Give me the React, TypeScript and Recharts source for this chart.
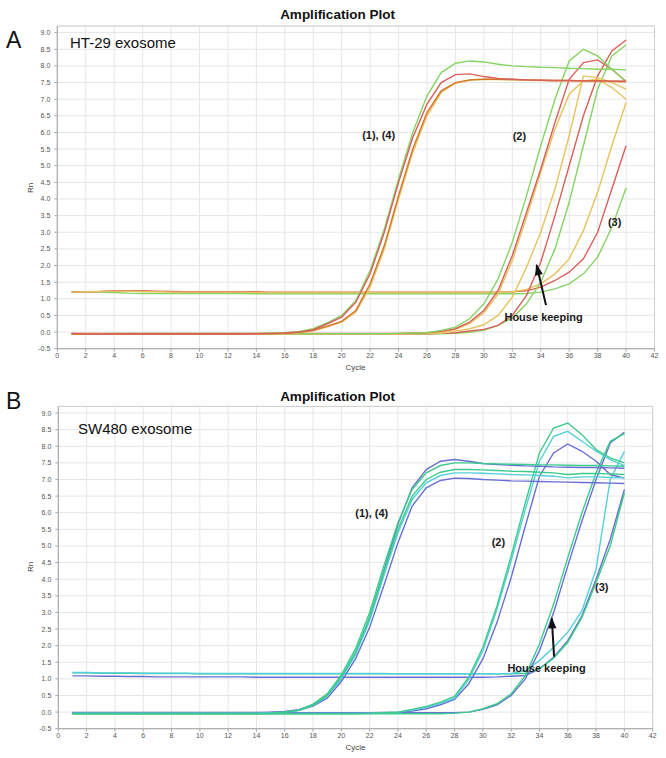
import React from "react";
import {
  LineChart,
  Line,
  XAxis,
  YAxis,
  CartesianGrid,
  ReferenceArea,
  ReferenceDot,
  ReferenceLine,
} from "recharts";

// ---------- categories & ticks ----------
const cycles = [
  1, 2, 3, 4, 5, 6, 7, 8, 9, 10, 11, 12, 13, 14, 15, 16, 17, 18, 19, 20,
  21, 22, 23, 24, 25, 26, 27, 28, 29, 30, 31, 32, 33, 34, 35, 36, 37, 38, 39, 40,
];
const xTicks = [0, 2, 4, 6, 8, 10, 12, 14, 16, 18, 20, 22, 24, 26, 28, 30, 32, 34, 36, 38, 40, 42];
const yTicks = [-0.5, 0, 0.5, 1, 1.5, 2, 2.5, 3, 3.5, 4, 4.5, 5, 5.5, 6, 6.5, 7, 7.5, 8, 8.5, 9];

// ---------- Panel A (HT-29 exosome) ----------
const aGreen14 = [
  -0.05, -0.05, -0.05, -0.04, -0.04, -0.04, -0.04, -0.04, -0.04, -0.04,
  -0.04, -0.04, -0.04, -0.04, -0.03, -0.02, 0.02, 0.1, 0.28, 0.5,
  0.95, 1.85, 3.1, 4.6, 6.0, 7.1, 7.8, 8.08, 8.15, 8.12,
  8.05, 8.0, 7.98, 7.96, 7.95, 7.93, 7.92, 7.9, 7.9, 7.88,
];
const aRed14 = [
  -0.04, -0.06, -0.07, -0.06, -0.05, -0.05, -0.05, -0.05, -0.05, -0.05,
  -0.05, -0.05, -0.05, -0.05, -0.04, -0.03, 0.0, 0.07, 0.25, 0.45,
  0.9, 1.75, 3.0, 4.5, 5.85, 6.85, 7.5, 7.74, 7.76, 7.68,
  7.62, 7.6, 7.58, 7.57, 7.56, 7.56, 7.55, 7.55, 7.54, 7.53,
];
const aOrange14 = [
  -0.06, -0.06, -0.06, -0.06, -0.06, -0.06, -0.06, -0.06, -0.06, -0.06,
  -0.06, -0.06, -0.06, -0.05, -0.05, -0.04, -0.01, 0.05, 0.18, 0.32,
  0.65, 1.45, 2.6, 4.1, 5.5, 6.6, 7.25, 7.5, 7.58, 7.6,
  7.6, 7.59, 7.58, 7.57, 7.56, 7.56, 7.55, 7.55, 7.54, 7.54,
];
const aYellow14 = [
  -0.06, -0.06, -0.06, -0.06, -0.06, -0.06, -0.06, -0.06, -0.06, -0.06,
  -0.06, -0.06, -0.06, -0.06, -0.05, -0.05, -0.02, 0.04, 0.16, 0.3,
  0.6, 1.35, 2.5, 4.0, 5.4, 6.5, 7.2, 7.48, 7.57, 7.6,
  7.59, 7.58, 7.57, 7.56, 7.55, 7.55, 7.54, 7.53, 7.52, 7.52,
];
const aGreen2a = [
  -0.05, -0.05, -0.05, -0.05, -0.05, -0.05, -0.05, -0.05, -0.05, -0.05,
  -0.05, -0.05, -0.05, -0.05, -0.05, -0.05, -0.05, -0.05, -0.05, -0.05,
  -0.05, -0.05, -0.05, -0.04, -0.03, -0.02, 0.05, 0.15, 0.4, 0.85,
  1.6, 2.7, 4.1, 5.6, 7.0, 8.15, 8.5, 8.3, 7.9, 7.53,
];
const aRed2a = [
  -0.04, -0.04, -0.04, -0.04, -0.04, -0.04, -0.04, -0.04, -0.04, -0.04,
  -0.04, -0.04, -0.04, -0.04, -0.04, -0.04, -0.04, -0.04, -0.04, -0.04,
  -0.04, -0.04, -0.04, -0.04, -0.03, -0.02, 0.02, 0.1, 0.3, 0.65,
  1.25, 2.3, 3.6, 4.9, 6.3, 7.6, 8.1, 8.18, 7.9, 7.53,
];
const aYellow2b = [
  -0.05, -0.05, -0.05, -0.05, -0.05, -0.05, -0.05, -0.05, -0.05, -0.05,
  -0.05, -0.05, -0.05, -0.05, -0.05, -0.05, -0.05, -0.05, -0.05, -0.05,
  -0.05, -0.05, -0.05, -0.05, -0.04, -0.03, 0.0, 0.08, 0.25, 0.58,
  1.15, 2.15, 3.45, 4.8, 6.1, 7.15, 7.55, 7.6, 7.35, 7.0,
];
const aYellow2a = [
  -0.05, -0.05, -0.05, -0.05, -0.05, -0.05, -0.05, -0.05, -0.05, -0.05,
  -0.05, -0.05, -0.05, -0.05, -0.05, -0.05, -0.05, -0.05, -0.05, -0.05,
  -0.05, -0.05, -0.05, -0.05, -0.05, -0.05, -0.04, 0.03, 0.1, 0.22,
  0.5, 1.05, 1.95, 3.0, 4.3, 5.9, 7.7, 7.65, 7.5, 7.3,
];
const aRed2b = [
  -0.06, -0.06, -0.06, -0.06, -0.06, -0.06, -0.06, -0.06, -0.06, -0.06,
  -0.06, -0.06, -0.06, -0.06, -0.06, -0.06, -0.06, -0.06, -0.06, -0.06,
  -0.06, -0.06, -0.06, -0.06, -0.05, -0.05, -0.04, -0.02, 0.03, 0.08,
  0.2, 0.5, 1.1, 2.1, 3.5, 5.0, 6.5, 7.7, 8.45, 8.78,
];
const aGreen2b = [
  -0.06, -0.06, -0.06, -0.06, -0.06, -0.06, -0.06, -0.06, -0.06, -0.06,
  -0.06, -0.06, -0.06, -0.06, -0.06, -0.06, -0.06, -0.06, -0.06, -0.06,
  -0.06, -0.06, -0.06, -0.06, -0.06, -0.06, -0.05, -0.04, -0.01, 0.05,
  0.2, 0.42, 0.85, 1.5, 2.5, 3.9, 5.6, 7.3, 8.3, 8.63,
];
const aYellow3 = [
  1.2, 1.21, 1.22, 1.23, 1.23, 1.22, 1.21, 1.2, 1.2, 1.2,
  1.2, 1.2, 1.2, 1.19, 1.19, 1.19, 1.19, 1.19, 1.19, 1.19,
  1.19, 1.19, 1.19, 1.19, 1.19, 1.19, 1.19, 1.19, 1.19, 1.19,
  1.19, 1.21, 1.28, 1.45, 1.75, 2.2, 3.05, 4.2, 5.6, 6.9,
];
const aRed3 = [
  1.21, 1.21, 1.22, 1.24, 1.24, 1.24, 1.23, 1.22, 1.21, 1.21,
  1.21, 1.21, 1.21, 1.21, 1.2, 1.2, 1.2, 1.2, 1.2, 1.2,
  1.2, 1.2, 1.2, 1.2, 1.2, 1.2, 1.2, 1.2, 1.2, 1.2,
  1.2, 1.21, 1.24, 1.35, 1.55, 1.8, 2.2, 3.0, 4.3, 5.6,
];
const aGreen3 = [
  1.2, 1.2, 1.2, 1.19, 1.17, 1.16, 1.16, 1.16, 1.16, 1.16,
  1.16, 1.16, 1.16, 1.15, 1.15, 1.15, 1.15, 1.15, 1.15, 1.15,
  1.15, 1.15, 1.15, 1.15, 1.15, 1.15, 1.15, 1.15, 1.15, 1.15,
  1.15, 1.15, 1.16, 1.2, 1.3, 1.45, 1.75, 2.25, 3.15, 4.33,
];

// ---------- Panel B (SW480 exosome) ----------
const bGreen14a = [
  -0.05, -0.05, -0.05, -0.05, -0.05, -0.05, -0.05, -0.05, -0.05, -0.05,
  -0.05, -0.05, -0.05, -0.05, -0.04, 0.0, 0.06, 0.24, 0.55, 1.12,
  1.9, 3.0, 4.4, 5.7, 6.7, 7.2, 7.42, 7.5, 7.5, 7.48,
  7.47, 7.46, 7.45, 7.44, 7.44, 7.43, 7.42, 7.42, 7.41, 7.4,
];
const bBlue14a = [
  -0.02, -0.02, -0.02, -0.02, -0.02, -0.02, -0.02, -0.02, -0.02, -0.02,
  -0.02, -0.02, -0.02, -0.02, -0.01, 0.02, 0.07, 0.22, 0.5, 1.02,
  1.75, 2.85, 4.25, 5.65, 6.75, 7.3, 7.55, 7.6, 7.55, 7.48,
  7.45, 7.43, 7.41, 7.4, 7.38, 7.37, 7.36, 7.36, 7.35, 7.34,
];
const bGreen14b = [
  -0.04, -0.04, -0.04, -0.04, -0.04, -0.04, -0.04, -0.04, -0.04, -0.04,
  -0.04, -0.04, -0.04, -0.04, -0.03, 0.0, 0.05, 0.21, 0.5, 1.05,
  1.8, 2.85, 4.2, 5.5, 6.5, 7.0, 7.22, 7.3, 7.3, 7.29,
  7.27, 7.25, 7.24, 7.22, 7.2, 7.15, 7.18, 7.18, 7.17, 7.15,
];
const bCyan14 = [
  -0.03, -0.03, -0.03, -0.03, -0.03, -0.03, -0.03, -0.03, -0.03, -0.03,
  -0.03, -0.03, -0.03, -0.03, -0.02, 0.0, 0.05, 0.2, 0.48, 1.0,
  1.72, 2.75, 4.1, 5.4, 6.4, 6.9, 7.12, 7.2, 7.2, 7.19,
  7.17, 7.15, 7.14, 7.12, 7.1, 7.05, 7.08, 7.08, 7.06, 7.05,
];
const bBlue14b = [
  -0.01, -0.01, -0.01, -0.01, -0.01, -0.01, -0.01, -0.01, -0.01, -0.01,
  -0.01, -0.01, -0.01, -0.01, 0.0, 0.01, 0.05, 0.18, 0.42, 0.92,
  1.6, 2.55, 3.8, 5.1, 6.2, 6.75, 6.97, 7.04, 7.03, 7.0,
  6.98, 6.96, 6.95, 6.94, 6.93, 6.92, 6.91, 6.9, 6.89, 6.88,
];
const bGreen2 = [
  -0.05, -0.05, -0.05, -0.05, -0.05, -0.05, -0.05, -0.05, -0.05, -0.05,
  -0.05, -0.05, -0.05, -0.05, -0.05, -0.05, -0.05, -0.05, -0.05, -0.05,
  -0.05, -0.04, -0.02, 0.0, 0.08, 0.17, 0.3, 0.47, 1.05, 1.95,
  3.2, 4.7, 6.3, 7.8, 8.55, 8.7, 8.35, 7.9, 7.65, 7.5,
];
const bCyan2 = [
  -0.04, -0.04, -0.04, -0.04, -0.04, -0.04, -0.04, -0.04, -0.04, -0.04,
  -0.04, -0.04, -0.04, -0.04, -0.04, -0.04, -0.04, -0.04, -0.04, -0.04,
  -0.04, -0.03, -0.02, 0.0, 0.06, 0.14, 0.26, 0.42, 0.98, 1.85,
  3.1, 4.55, 6.1, 7.55, 8.3, 8.45, 8.15, 7.85, 7.6, 7.42,
];
const bBlue2 = [
  -0.02, -0.02, -0.02, -0.02, -0.02, -0.02, -0.02, -0.02, -0.02, -0.02,
  -0.02, -0.02, -0.02, -0.02, -0.02, -0.02, -0.02, -0.02, -0.02, -0.02,
  -0.02, -0.02, -0.01, 0.0, 0.03, 0.1, 0.22, 0.38, 0.85, 1.6,
  2.7, 4.05, 5.6, 7.1, 7.8, 8.07, 7.85, 7.55, 7.15, 7.04,
];
const bGreenHk = [
  -0.05, -0.05, -0.05, -0.05, -0.05, -0.05, -0.05, -0.05, -0.05, -0.05,
  -0.05, -0.05, -0.05, -0.05, -0.05, -0.05, -0.05, -0.05, -0.05, -0.05,
  -0.05, -0.05, -0.05, -0.05, -0.05, -0.05, -0.05, -0.03, 0.0, 0.1,
  0.25, 0.55, 1.1, 2.05, 3.25, 4.65, 6.0, 7.2, 8.15, 8.38,
];
const bBlueHk = [
  -0.02, -0.02, -0.02, -0.02, -0.02, -0.02, -0.02, -0.02, -0.02, -0.02,
  -0.02, -0.02, -0.02, -0.02, -0.02, -0.02, -0.02, -0.02, -0.02, -0.02,
  -0.02, -0.02, -0.02, -0.02, -0.02, -0.02, -0.02, -0.02, 0.0, 0.08,
  0.22, 0.5, 1.0, 1.85, 3.0, 4.4, 5.75, 7.0, 8.1, 8.42,
];
const bCyan3 = [
  1.19, 1.19, 1.18, 1.18, 1.18, 1.17, 1.17, 1.17, 1.17, 1.16,
  1.16, 1.16, 1.16, 1.16, 1.16, 1.16, 1.16, 1.16, 1.16, 1.16,
  1.16, 1.16, 1.16, 1.15, 1.15, 1.15, 1.15, 1.15, 1.15, 1.15,
  1.15, 1.16, 1.25, 1.55, 1.95, 2.4, 3.05, 4.3, 7.0, 7.84,
];
const bGreen3 = [
  1.18, 1.18, 1.17, 1.17, 1.17, 1.16, 1.16, 1.16, 1.16, 1.15,
  1.15, 1.15, 1.15, 1.15, 1.15, 1.15, 1.15, 1.15, 1.15, 1.15,
  1.15, 1.15, 1.15, 1.15, 1.15, 1.15, 1.15, 1.15, 1.15, 1.15,
  1.15, 1.15, 1.17, 1.3, 1.62, 2.1, 2.85, 3.9, 5.0, 6.6,
];
const bBlue3 = [
  1.09, 1.09, 1.08, 1.08, 1.07, 1.07, 1.06, 1.06, 1.06, 1.06,
  1.06, 1.06, 1.06, 1.05, 1.05, 1.05, 1.05, 1.05, 1.05, 1.05,
  1.05, 1.05, 1.05, 1.05, 1.05, 1.05, 1.05, 1.05, 1.05, 1.05,
  1.06, 1.08, 1.1, 1.3, 1.65, 2.15, 2.9, 4.0, 5.2, 6.7,
];

// ---------- annotation text & anchors (data coordinates) ----------
const annotationsA = [
  { text: "(1), (4)", x: 22.6, y: 5.92 },
  { text: "(2)", x: 32.5, y: 5.89 },
  { text: "(3)", x: 39.2, y: 3.32 },
  { text: "House keeping", x: 34.2, y: 0.46 },
];
const annotationsB = [
  { text: "(1), (4)", x: 22.15, y: 5.98 },
  { text: "(2)", x: 31.1, y: 5.13 },
  { text: "(3)", x: 38.4, y: 3.76 },
  { text: "House keeping", x: 34.5, y: 1.32 },
];
const arrowA = { tail: { x: 34.37, y: 0.81 }, tip: { x: 33.71, y: 2.01 } };
const arrowB = { tail: { x: 35.03, y: 1.67 }, tip: { x: 34.87, y: 2.82 } };

// ---------- colours ----------
const C_GREEN_A = "#86d463";
const C_RED_A = "#d9605a";
const C_ORANGE_A = "#d4742a";
const C_YELLOW_A = "#e7c25e";
const C_GREEN_B = "#3ccb8c";
const C_CYAN_B = "#55cfdc";
const C_BLUE_B = "#6a6ed4";

type Series = { key: string; values: number[]; color: string };

const seriesA: Series[] = [
  { key: "aGreen3", values: aGreen3, color: C_GREEN_A },
  { key: "aRed3", values: aRed3, color: C_RED_A },
  { key: "aYellow3", values: aYellow3, color: C_YELLOW_A },
  { key: "aGreen2b", values: aGreen2b, color: C_GREEN_A },
  { key: "aRed2b", values: aRed2b, color: C_RED_A },
  { key: "aYellow2a", values: aYellow2a, color: C_YELLOW_A },
  { key: "aYellow2b", values: aYellow2b, color: C_YELLOW_A },
  { key: "aRed2a", values: aRed2a, color: C_RED_A },
  { key: "aGreen2a", values: aGreen2a, color: C_GREEN_A },
  { key: "aGreen14", values: aGreen14, color: C_GREEN_A },
  { key: "aYellow14", values: aYellow14, color: C_YELLOW_A },
  { key: "aOrange14", values: aOrange14, color: C_ORANGE_A },
  { key: "aRed14", values: aRed14, color: C_RED_A },
];

const seriesB: Series[] = [
  { key: "bBlue3", values: bBlue3, color: C_BLUE_B },
  { key: "bGreen3", values: bGreen3, color: C_GREEN_B },
  { key: "bCyan3", values: bCyan3, color: C_CYAN_B },
  { key: "bBlueHk", values: bBlueHk, color: C_BLUE_B },
  { key: "bGreenHk", values: bGreenHk, color: C_GREEN_B },
  { key: "bBlue2", values: bBlue2, color: C_BLUE_B },
  { key: "bCyan2", values: bCyan2, color: C_CYAN_B },
  { key: "bGreen2", values: bGreen2, color: C_GREEN_B },
  { key: "bBlue14b", values: bBlue14b, color: C_BLUE_B },
  { key: "bBlue14a", values: bBlue14a, color: C_BLUE_B },
  { key: "bCyan14", values: bCyan14, color: C_CYAN_B },
  { key: "bGreen14b", values: bGreen14b, color: C_GREEN_B },
  { key: "bGreen14a", values: bGreen14a, color: C_GREEN_B },
];

const FONT = "'Liberation Sans', Arial, Helvetica, sans-serif";

function buildRows(series: Series[]) {
  return cycles.map((c, i) => {
    const row: Record<string, number> = { cycle: c };
    series.forEach((s) => {
      row[s.key] = s.values[i];
    });
    return row;
  });
}

type PanelProps = {
  series: Series[];
  annotations: { text: string; x: number; y: number }[];
  arrow: { tail: { x: number; y: number }; tip: { x: number; y: number } };
  margin: { top: number; right: number; bottom: number; left: number };
  pxPerX: number;
  pxPerY: number;
};

function Panel({ series, annotations, arrow, margin, pxPerX, pxPerY }: PanelProps) {
  const rows = buildRows(series);
  const dxp = (arrow.tip.x - arrow.tail.x) * pxPerX;
  const dyp = -(arrow.tip.y - arrow.tail.y) * pxPerY;
  const len = Math.sqrt(dxp * dxp + dyp * dyp);
  const ux = dxp / len;
  const uy = dyp / len;
  const headLen = 10;
  const headHalf = 4;
  const tickStyle = { fontSize: 7, fill: "#555", fontFamily: FONT };
  return (
    <LineChart width={666} height={380} data={rows} margin={margin}>
      <CartesianGrid stroke="#e6e6e6" strokeWidth={1} />
      <ReferenceArea x1={0} x2={42} y1={-0.5} y2={9.2} fill="none" stroke="#cfcfcf" strokeWidth={1} />
      <XAxis
        type="number"
        dataKey="cycle"
        domain={[0, 42]}
        ticks={xTicks}
        interval={0}
        tick={tickStyle}
        tickSize={3}
        tickMargin={1}
        height={20}
        axisLine={{ stroke: "#a8a8a8" }}
        tickLine={{ stroke: "#a8a8a8" }}
        allowDataOverflow
      />
      <YAxis
        type="number"
        domain={[-0.5, 9.2]}
        ticks={yTicks}
        interval={0}
        tickFormatter={(v: number) => v.toFixed(1)}
        tick={tickStyle}
        tickSize={3}
        tickMargin={4}
        width={30}
        axisLine={{ stroke: "#a8a8a8" }}
        tickLine={{ stroke: "#a8a8a8" }}
        allowDataOverflow
      />
      {series.map((s) => (
        <Line
          key={s.key}
          type="linear"
          dataKey={s.key}
          stroke={s.color}
          strokeWidth={1.4}
          dot={false}
          activeDot={false}
          isAnimationActive={false}
        />
      ))}
      <ReferenceLine
        segment={[
          { x: arrow.tail.x, y: arrow.tail.y },
          { x: arrow.tip.x, y: arrow.tip.y },
        ]}
        stroke="#111"
        strokeWidth={2}
      />
      <ReferenceDot
        x={arrow.tip.x}
        y={arrow.tip.y}
        r={0}
        shape={(p: any) => {
          const bx = p.cx - ux * headLen;
          const by = p.cy - uy * headLen;
          const pts = [
            `${p.cx + ux * 1.5},${p.cy + uy * 1.5}`,
            `${bx - uy * headHalf},${by + ux * headHalf}`,
            `${bx + uy * headHalf},${by - ux * headHalf}`,
          ].join(" ");
          return <polygon points={pts} fill="#111" />;
        }}
      />
      {annotations.map((a) => (
        <ReferenceDot
          key={a.text}
          x={a.x}
          y={a.y}
          r={0}
          shape={(p: any) => (
            <text
              x={p.cx}
              y={p.cy}
              textAnchor="middle"
              dominantBaseline="central"
              fontFamily={FONT}
              fontWeight="bold"
              fontSize={11}
              fill="#1a1a1a"
            >
              {a.text}
            </text>
          )}
        />
      ))}
    </LineChart>
  );
}

export default function App() {
  return (
    <div
      style={{
        position: "absolute",
        left: 0,
        top: 0,
        width: 666,
        height: 758,
        background: "#fff",
        overflow: "hidden",
      }}
    >
      <div style={{ position: "absolute", left: 0, top: 0 }}>
        <Panel
          series={seriesA}
          annotations={annotationsA}
          arrow={arrowA}
          margin={{ top: 26, right: 11.5, bottom: 11.3, left: 27.3 }}
          pxPerX={14.22}
          pxPerY={33.26}
        />
      </div>
      <div style={{ position: "absolute", left: 0, top: 380 }}>
        <Panel
          series={seriesB}
          annotations={annotationsB}
          arrow={arrowB}
          margin={{ top: 26.4, right: 13.3, bottom: 11.3, left: 28.3 }}
          pxPerX={14.15}
          pxPerY={33.23}
        />
      </div>
      <svg
        width={666}
        height={758}
        style={{ position: "absolute", left: 0, top: 0, pointerEvents: "none" }}
      >
        <g fontFamily={FONT} fill="#111">
          <text x={6} y={48} fontSize={23}>A</text>
          <text x={6} y={409} fontSize={23}>B</text>
          <text x={337.5} y={19} fontSize={13.5} fontWeight="bold" textAnchor="middle">
            Amplification Plot
          </text>
          <text x={337.5} y={400.5} fontSize={13.5} fontWeight="bold" textAnchor="middle">
            Amplification Plot
          </text>
          <text x={70} y={48} fontSize={15}>HT-29 exosome</text>
          <text x={78} y={434} fontSize={15}>SW480 exosome</text>
          <text x={355.5} y={370} fontSize={8} fill="#444" textAnchor="middle">Cycle</text>
          <text x={355.5} y={750} fontSize={8} fill="#444" textAnchor="middle">Cycle</text>
          <text
            x={0}
            y={0}
            fontSize={8}
            fill="#444"
            textAnchor="middle"
            transform="translate(32.5,188) rotate(-90)"
          >
            Rn
          </text>
          <text
            x={0}
            y={0}
            fontSize={8}
            fill="#444"
            textAnchor="middle"
            transform="translate(32.5,567) rotate(-90)"
          >
            Rn
          </text>
        </g>
      </svg>
    </div>
  );
}
